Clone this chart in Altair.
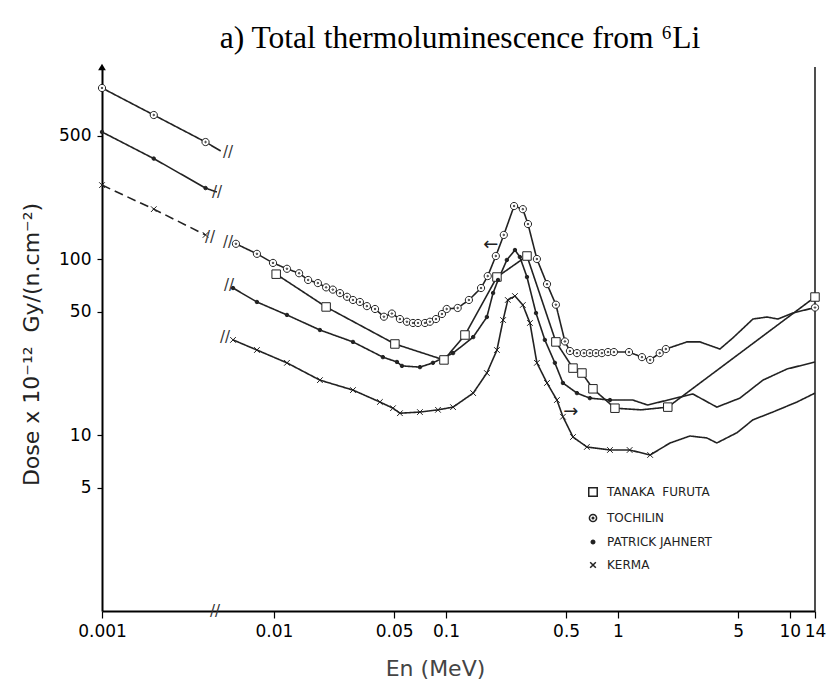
import altair as alt
import pandas as pd

TAN, TOC, PAT, KER = "TANAKA\u00a0\u00a0FURUTA", "TOCHILIN", "PATRICK JAHNERT", "KERMA"
NAMES = [TAN, TOC, PAT, KER]          # legend order
ORDER = [PAT, KER, TOC, TAN]          # scale order (increasing marker size)

# ---------------- Tochilin (circles) ----------------
toch_left_E = [0.001, 0.002, 0.004, 0.0049]
toch_left_D = [937, 658, 462, 411]
toch_E = [0.00601, 0.00796, 0.00987, 0.0119, 0.0140, 0.0158, 0.0180, 0.0201, 0.0220, 0.0242,
          0.0266, 0.0288, 0.0316, 0.0347, 0.0387, 0.0436, 0.0485, 0.0540, 0.0593, 0.0643,
          0.0688, 0.0755, 0.0807, 0.0875, 0.0948, 0.101, 0.117, 0.136, 0.160, 0.175,
          0.195, 0.217, 0.249, 0.280, 0.300, 0.338, 0.387, 0.436, 0.492, 0.526,
          0.578, 0.634, 0.687, 0.745, 0.807, 0.875, 0.948, 1.16, 1.38, 1.54, 1.75, 1.90]
toch_D = [122, 107, 95, 88, 83, 76, 73, 69, 67, 64,
          61, 58.5, 57, 54, 52, 47, 49, 45.6, 44, 43.3,
          43.3, 43.3, 44, 45.6, 48.7, 52, 52.7, 58.5, 68.4, 80,
          104, 137, 200, 192, 158, 100, 72, 55, 34, 30,
          29.2, 29.2, 29.2, 29.2, 29.2, 29.6, 29.6, 29.6, 27.7, 26.7, 29.2, 30.8]
toch_tail_E = [2.52, 3.0, 3.92, 4.66, 6.10, 7.35, 8.52, 10.4, 14]
toch_tail_D = [33.8, 33.8, 30.8, 35.6, 45.6, 46.8, 45.6, 49.3, 53]

# ---------------- Tanaka Furuta (squares) ----------------
tan_E = [0.0103, 0.0201, 0.0505, 0.0974, 0.129, 0.198, 0.296, 0.436, 0.548, 0.618,
         0.716, 0.961, 1.36, 1.95, 14]
tan_D = [82, 53.4, 32.9, 26.7, 37, 79, 104, 33.8, 24, 22.5,
         18.3, 14.2, 13.9, 14.4, 60.8]
tan_mark = [1, 1, 1, 1, 1, 1, 1, 1, 1, 1, 1, 1, 0, 1, 1]

# ---------------- Patrick Jahnert (dots) ----------------
pat_left_E = [0.001, 0.002, 0.004, 0.00466]
pat_left_D = [527, 372, 253, 240]
pat_E = [0.00578, 0.00796, 0.0119, 0.0185, 0.0288, 0.0430, 0.0519, 0.0555, 0.0706, 0.0840,
         0.110, 0.144, 0.173, 0.188, 0.201, 0.226, 0.252, 0.269, 0.296, 0.334,
         0.376, 0.430, 0.479, 0.578, 0.687, 0.899, 1.22, 1.49, 1.95, 2.73,
         3.76, 5.12, 6.97, 9.61, 14]
pat_D = [68.4, 57, 48.1, 39.5, 33.8, 27.7, 26, 24.7, 24.3, 25.7,
         29.2, 36, 46.8, 64.1, 76, 98.7, 112.5, 102.7, 79, 49.3,
         34.7, 25.7, 19.75, 17.3, 16.2, 15.8, 15.8, 14.8, 15.8, 17.1,
         14.4, 16.2, 20.5, 23.7, 26]
pat_nmark = 26

# ---------------- Kerma (crosses) ----------------
ker_left_E = [0.001, 0.002, 0.004]
ker_left_D = [263, 192, 137]
ker_E = [0.00578, 0.00796, 0.0119, 0.0185, 0.0288, 0.0413, 0.0492, 0.0540, 0.0706, 0.0899,
         0.110, 0.144, 0.173, 0.198, 0.215, 0.229, 0.252, 0.280, 0.308, 0.338,
         0.387, 0.442, 0.479, 0.548, 0.660, 0.899, 1.17, 1.54, 2.01, 2.62,
         3.29, 3.76, 4.92, 6.10, 7.96, 11.0, 14]
ker_D = [34.7, 30.4, 25.7, 20.5, 18.0, 15.4, 14.2, 13.3, 13.5, 13.9,
         14.4, 17.3, 22.5, 30.4, 45, 58.5, 61.6, 54.8, 43.3, 25.7,
         19.75, 15.8, 12.7, 9.74, 8.55, 8.22, 8.22, 7.70, 9.01, 9.87,
         9.62, 9.01, 10.3, 12.2, 13.5, 15.4, 17.3]
ker_nmark = 28

# ---------------- annotations ----------------
break_E = [0.0054, 0.00466, 0.00425, 0.0054, 0.00548, 0.00519, 0.00454]
break_D = [405, 240, 133, 125, 71.2, 36.0, 1]
arrow_E = [0.1826, 0.533]
arrow_D = [120, 13.5]
arrow_txt = ["\u2190", "\u2192"]

TITLE = "a) Total thermoluminescence from \u2076Li"
x_ticks = [0.001, 0.01, 0.05, 0.1, 0.5, 1, 5, 10, 14]
y_ticks = [5, 10, 50, 100, 500]
E_MIN, E_MAX = 0.001, 14
D_MIN, D_MAX = 1, 1233

# ---------------- tables ----------------
line_rows, mark_rows = [], []


def add_line(series, seg, E, D, dash="solid"):
    for e, d in zip(E, D):
        line_rows.append(dict(series=series, seg=seg, E=e, D=d, dash=dash))


def add_marks(series, E, D):
    for e, d in zip(E, D):
        mark_rows.append(dict(series=series, E=e, D=d))


add_line(TOC, "tL", toch_left_E, toch_left_D)
add_line(TOC, "tR", toch_E + toch_tail_E, toch_D + toch_tail_D)
add_marks(TOC, toch_left_E[:3] + toch_E + [toch_tail_E[-1]],
          toch_left_D[:3] + toch_D + [toch_tail_D[-1]])

add_line(TAN, "tan", tan_E, tan_D)
add_marks(TAN, [e for e, m in zip(tan_E, tan_mark) if m],
          [d for d, m in zip(tan_D, tan_mark) if m])

add_line(PAT, "pL", pat_left_E, pat_left_D)
add_line(PAT, "pR", pat_E, pat_D)
add_marks(PAT, pat_left_E[:3] + pat_E[:pat_nmark], pat_left_D[:3] + pat_D[:pat_nmark])

add_line(KER, "kL", ker_left_E, ker_left_D, dash="dashed")
add_line(KER, "kR", ker_E, ker_D)
add_marks(KER, ker_left_E + ker_E[:ker_nmark], ker_left_D + ker_D[:ker_nmark])

lines_df = pd.DataFrame(line_rows)
marks_df = pd.DataFrame(mark_rows)
breaks_df = pd.DataFrame(dict(E=break_E, D=break_D))
arrows_df = pd.DataFrame(dict(E=arrow_E, D=arrow_D, t=arrow_txt))
frame_df = pd.DataFrame(dict(E=[E_MAX], D=[D_MIN], D2=[D_MAX]))
tip_df = pd.DataFrame(dict(E=[E_MIN], D=[D_MAX]))

xs = alt.Scale(type="log", domain=[E_MIN, E_MAX], nice=False)
ys = alt.Scale(type="log", domain=[D_MIN, D_MAX], nice=False)

x_enc = alt.X("E:Q", scale=xs, axis=alt.Axis(
    values=x_ticks, format="~g", title="En (MeV)", tickSize=7, labelPadding=5,
    labelOverlap=False, labelFlush=False, titleX=333, titleY=64, titleFontSize=22,
    titleBaseline="alphabetic", titleAlign="center", titleColor="#444"))
y_enc = alt.Y("D:Q", scale=ys, axis=alt.Axis(
    values=y_ticks, format="~g",
    title="Dose x 10\u207b\u00b9\u00b2\u00a0\u00a0Gy/(n.cm\u207b\u00b2)",
    tickSize=5, labelPadding=6, labelOverlap=False, titleX=-64, titleY=277,
    titleFontSize=22, titleBaseline="alphabetic", titleAlign="center", titleColor="#222"))

CIRCLE_DOT = ("M-1,0A1,1,0,1,0,1,0A1,1,0,1,0,-1,0Z"
              "M-0.22,0A0.22,0.22,0,1,0,0.22,0A0.22,0.22,0,1,0,-0.22,0Z")
XMARK = "M-1,-1L1,1M-1,1L1,-1"
shape_of = {TAN: "square", TOC: CIRCLE_DOT, PAT: "circle", KER: XMARK}
fill_of = {TAN: "white", TOC: "white", PAT: "#222", KER: "#222"}

leg = alt.Legend(title=None, orient="none", legendX=485, legendY=419, values=NAMES,
                 labelFont="DejaVu Sans", labelFontSize=12, labelColor="#222",
                 rowPadding=11, labelOffset=8)

lines = alt.Chart(lines_df).mark_line(color="#222", strokeWidth=1.6).encode(
    x=x_enc, y=y_enc, detail="seg:N",
    strokeDash=alt.StrokeDash("dash:N", scale=alt.Scale(domain=["solid", "dashed"],
                                                      range=[[1, 0], [9, 5]]), legend=None),
)

points = alt.Chart(marks_df).mark_point(filled=True, strokeWidth=1, opacity=1).encode(
    x=x_enc, y=y_enc,
    shape=alt.Shape("series:N", scale=alt.Scale(domain=ORDER, range=[shape_of[s] for s in ORDER]), legend=leg),
    fill=alt.Fill("series:N", scale=alt.Scale(domain=ORDER, range=[fill_of[s] for s in ORDER]), legend=leg),
    stroke=alt.Stroke("series:N", scale=alt.Scale(domain=ORDER, range=["#222"] * 4), legend=leg),
    size=alt.Size("series:N", scale=alt.Scale(domain=ORDER, range=[12, 72]), legend=leg),
)

breaks = alt.Chart(breaks_df).mark_text(text="//", font="DejaVu Sans", fontSize=15, color="#333").encode(
    x=x_enc, y=y_enc)

arrows = alt.Chart(arrows_df).mark_text(font="DejaVu Sans", fontSize=18, color="#222").encode(
    x=x_enc, y=y_enc, text="t:N")

frame = alt.Chart(frame_df).mark_rule(color="#222", strokeWidth=1.6).encode(
    x=x_enc, y=y_enc, y2="D2:Q")

tip = alt.Chart(tip_df).mark_point(shape="triangle-up", filled=True, color="black", size=60, opacity=1).encode(
    x=x_enc, y=y_enc)

title = alt.Chart(pd.DataFrame({"t": [TITLE]})).mark_text(
    font="Liberation Serif", fontSize=31.5, color="black", align="center", baseline="alphabetic"
).encode(x=alt.value(358), y=alt.value(-19), text="t:N")

chart = alt.layer(frame, lines, points, breaks, arrows, tip, title).properties(
    width=713, height=544,
    padding={"left": 102, "top": 67, "right": 18, "bottom": 73},
    autosize="none",
    background="white",
).configure_view(stroke=None).configure_axis(
    grid=False, domainColor="black", domainWidth=2, tickColor="black", tickWidth=1.2,
    labelFont="DejaVu Sans", labelFontSize=17, labelColor="black",
    titleFont="DejaVu Sans", titleFontSize=20, titleFontWeight="normal",
)

chart.save("out.html", embed_options={"renderer": "svg", "actions": False})
